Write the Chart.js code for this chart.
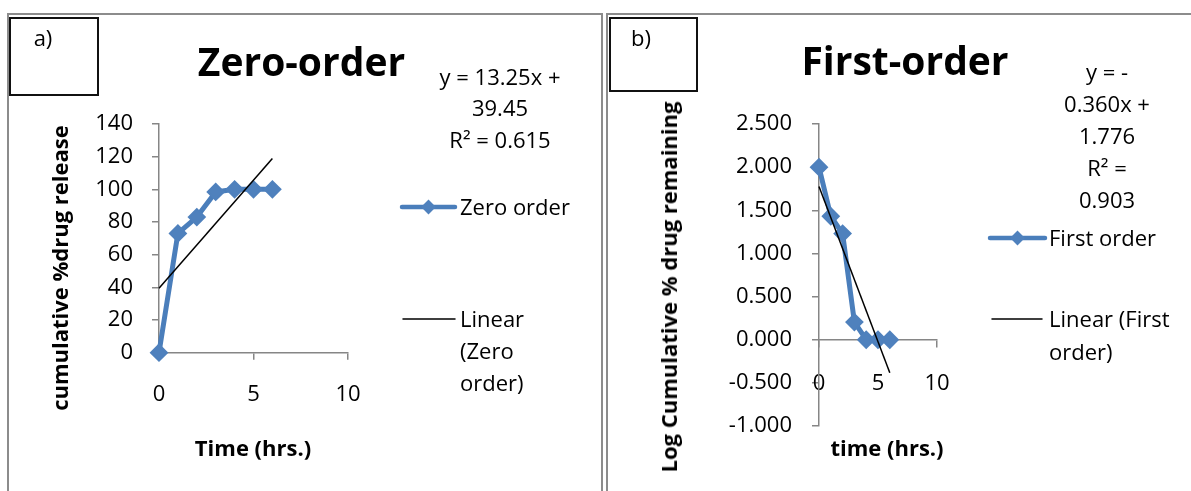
<!DOCTYPE html>
<html>
<head>
<meta charset="utf-8">
<title>Drug release kinetics</title>
<script src="https://cdn.jsdelivr.net/npm/chart.js@4.4.1/dist/chart.umd.min.js"></script>
<style>
  html, body { margin: 0; padding: 0; background: #ffffff; }
  #stage { position: relative; width: 1191px; height: 491px; overflow: hidden;
           font-family: "Open Sans", sans-serif; color: #000; background: #fff; }
  #stage canvas { position: absolute; left: 0; top: 0; }
  .frame { position: absolute; border: 2px solid #8c8c8c; box-sizing: border-box; }
  .tag { position: absolute; border: 2px solid #111; box-sizing: border-box; }
  .txt { position: absolute; white-space: nowrap; }
</style>
</head>
<body>
<div id="stage">
  <div class="frame" style="left:7px; top:13px; width:596px; height:520px;"></div>
  <div class="frame" style="left:606px; top:13px; width:620px; height:520px;"></div>
  <div class="tag" style="left:9px; top:17px; width:90px; height:79px;"></div>
  <div class="tag" style="left:609px; top:17px; width:89px; height:75px;"></div>
  <canvas id="zeroCanvas" width="1191" height="491"></canvas>
  <canvas id="firstCanvas" width="1191" height="491"></canvas>
</div>
<script>
// Sampling times (hours)
const hours = [0, 1, 2, 3, 4, 5, 6];
// Cumulative % drug released at each time
const zeroOrderRelease = [0, 73, 83, 98.4, 100, 100, 100];
// log10 of % drug remaining at each time
const firstOrderLogRemaining = [2.000, 1.431, 1.230, 0.204, 0.000, 0.000, 0.000];

// Least-squares fits
const zeroSlope = 13.25, zeroIntercept = 39.45, zeroR2 = 0.615;
const firstSlope = -0.360, firstIntercept = 1.776, firstR2 = 0.903;

// Axis tick values
const timeTicks = [0, 5, 10];
const zeroYTicks = [0, 20, 40, 60, 80, 100, 120, 140];
const firstYTicks = [-1, -0.5, 0, 0.5, 1, 1.5, 2, 2.5];

const lineBlue = '#4a7ebb';
const markerBlue = '#4f81bd';
const axisGray = '#868686';

Chart.defaults.font.family = '"Open Sans", sans-serif';
Chart.defaults.font.size = 22;
Chart.defaults.color = '#000';

const stage = document.getElementById('stage');

// Places one block of HTML text; (cx, cy) is the centre of the first line.
function placeText(lines, cx, cy, o) {
  const fs = o.size;
  const lh = o.lineGap || Math.round(fs * 1.362);
  const d = document.createElement('div');
  d.className = 'txt';
  d.style.fontSize = fs + 'px';
  d.style.fontWeight = o.bold ? '700' : '400';
  d.style.lineHeight = lh + 'px';
  d.style.textAlign = o.align || 'center';
  lines.forEach((t, i) => {
    if (i) d.appendChild(document.createElement('br'));
    d.appendChild(document.createTextNode(t));
  });
  d.style.left = cx + 'px';
  if (o.rotate) {
    d.style.top = cy + 'px';
    d.style.transform = 'translate(-50%,-50%) rotate(-90deg)';
  } else {
    d.style.top = (cy - ((lh - 1.362 * fs) / 2 + 0.712 * fs)) + 'px';
    if (o.align !== 'left') d.style.transform = 'translateX(-50%)';
  }
  stage.appendChild(d);
}

function series(xs, ys) {
  return xs.map((x, i) => ({ x: x, y: ys[i] }));
}

function trendPoints(slope, intercept) {
  const x0 = hours[0], x1 = hours[hours.length - 1];
  return [{ x: x0, y: intercept + slope * x0 }, { x: x1, y: intercept + slope * x1 }];
}

// Legend keys (sample line + marker) drawn beside each plot
const keyPlugin = {
  id: 'sideKeys',
  afterDraw(chart, args, opts) {
    const ctx = chart.ctx;
    ctx.save();
    (opts.items || []).forEach(item => {
      const ds = chart.data.datasets[item.datasetIndex];
      ctx.strokeStyle = ds.borderColor;
      ctx.lineWidth = item.lineWidth;
      ctx.lineCap = 'round';
      ctx.beginPath();
      ctx.moveTo(item.x0, item.y);
      ctx.lineTo(item.x1, item.y);
      ctx.stroke();
      if (ds.pointRadius > 0) {
        ctx.fillStyle = ds.pointBackgroundColor;
        ctx.strokeStyle = ds.pointBorderColor;
        ctx.lineWidth = ds.pointBorderWidth;
        Chart.helpers.drawPoint(ctx, {
          pointStyle: ds.pointStyle, radius: item.radius,
          borderWidth: ds.pointBorderWidth, rotation: 0
        }, (item.x0 + item.x1) / 2, item.y);
      }
    });
    ctx.restore();
  }
};

function axisStyle(extra) {
  return Object.assign({
    type: 'linear',
    grid: { display: true, drawOnChartArea: false, drawTicks: true, tickLength: 7,
            color: axisGray, lineWidth: 1.5 },
    border: { display: true, color: axisGray, width: 1.5 }
  }, extra);
}

function dataStyle(label, data) {
  return {
    label: label, data: data,
    borderColor: lineBlue, borderWidth: 5, borderJoinStyle: 'round', borderCapStyle: 'round',
    pointStyle: 'rectRot', pointRadius: 8, pointBorderWidth: 2,
    pointBackgroundColor: markerBlue, pointBorderColor: markerBlue,
    tension: 0, clip: false, order: 1
  };
}

function trendStyle(label, data) {
  return {
    label: label, data: data, borderColor: '#000', borderWidth: 1.5,
    pointRadius: 0, tension: 0, clip: false, order: 0
  };
}

// ---- Zero-order plot ----
new Chart(document.getElementById('zeroCanvas'), {
  type: 'line',
  data: {
    datasets: [
      dataStyle('Zero order', series(hours, zeroOrderRelease)),
      trendStyle('Linear (Zero order)', trendPoints(zeroSlope, zeroIntercept))
    ]
  },
  options: {
    responsive: false, animation: false, events: [],
    layout: { padding: { left: 0, top: 124, right: 1191 - 348, bottom: 0 } },
    plugins: {
      legend: { display: false }, tooltip: { enabled: false },
      sideKeys: { items: [
        { datasetIndex: 0, x0: 402, x1: 455, y: 207, lineWidth: 4.5, radius: 6 },
        { datasetIndex: 1, x0: 403, x1: 455, y: 319, lineWidth: 1.5 }
      ] }
    },
    scales: {
      x: axisStyle({
        min: timeTicks[0], max: timeTicks[timeTicks.length - 1],
        afterBuildTicks: s => { s.ticks = timeTicks.map(v => ({ value: v })); },
        afterFit: s => { s.height = 491 - 352.7; },
        ticks: { padding: 22, maxRotation: 0, callback: v => String(v) }
      }),
      y: axisStyle({
        min: zeroYTicks[0], max: zeroYTicks[zeroYTicks.length - 1],
        afterBuildTicks: s => { s.ticks = zeroYTicks.map(v => ({ value: v })); },
        afterFit: s => { s.width = 159; },
        ticks: { padding: 19, callback: v => String(v) }
      })
    }
  },
  plugins: [keyPlugin]
});

// ---- First-order plot (time axis crosses at y = 0) ----
new Chart(document.getElementById('firstCanvas'), {
  type: 'line',
  data: {
    datasets: [
      dataStyle('First order', series(hours, firstOrderLogRemaining)),
      trendStyle('Linear (First order)', trendPoints(firstSlope, firstIntercept))
    ]
  },
  options: {
    responsive: false, animation: false, events: [],
    layout: { padding: { left: 0, top: 124, right: 1191 - 937, bottom: 491 - 426 } },
    plugins: {
      legend: { display: false }, tooltip: { enabled: false },
      sideKeys: { items: [
        { datasetIndex: 0, x0: 990, x1: 1045, y: 238, lineWidth: 4.5, radius: 6 },
        { datasetIndex: 1, x0: 992, x1: 1042, y: 319, lineWidth: 1.5 }
      ] }
    },
    scales: {
      x: axisStyle({
        position: { y: 0 },
        min: timeTicks[0], max: timeTicks[timeTicks.length - 1],
        afterBuildTicks: s => { s.ticks = timeTicks.map(v => ({ value: v })); },
        afterFit: s => { s.height = 0; },
        ticks: { padding: 23.5, maxRotation: 0, callback: v => String(v) }
      }),
      y: axisStyle({
        min: firstYTicks[0], max: firstYTicks[firstYTicks.length - 1],
        afterBuildTicks: s => { s.ticks = firstYTicks.map(v => ({ value: v })); },
        afterFit: s => { s.width = 819; },
        ticks: { padding: 20, callback: v => Number(v).toFixed(3) }
      })
    }
  },
  plugins: [keyPlugin]
});

// ---- Text ----
placeText(['a)'], 43, 38, { size: 22 });
placeText(['b)'], 641, 38, { size: 22 });

placeText(['Zero-order'], 301.5, 62, { size: 39, bold: true });
placeText(['First-order'], 905, 61, { size: 39, bold: true });

placeText([
  'y = ' + zeroSlope.toFixed(2) + 'x +',
  zeroIntercept.toFixed(2),
  'R\u00B2 = ' + zeroR2.toFixed(3)
], 500, 77, { size: 22, lineGap: 31.5 });

placeText([
  'y = ' + (firstSlope < 0 ? '-' : ''),
  Math.abs(firstSlope).toFixed(3) + 'x +',
  firstIntercept.toFixed(3),
  'R\u00B2 =',
  firstR2.toFixed(3)
], 1107, 72, { size: 22, lineGap: 32 });

placeText(['Zero order'], 460, 207, { size: 22, align: 'left' });
placeText(['Linear', '(Zero', 'order)'], 460, 319, { size: 22, align: 'left', lineGap: 32 });
placeText(['First order'], 1049, 238, { size: 22, align: 'left' });
placeText(['Linear (First', 'order)'], 1049, 319, { size: 22, align: 'left', lineGap: 33 });

placeText(['Time (hrs.)'], 253, 448, { size: 22, bold: true });
placeText(['time (hrs.)'], 887, 448, { size: 22, bold: true });

placeText(['cumulative %drug release'], 59, 268, { size: 22, bold: true, rotate: true });
placeText(['Log Cumulative % drug remaining'], 668, 287, { size: 22, bold: true, rotate: true });
</script>
</body>
</html>
